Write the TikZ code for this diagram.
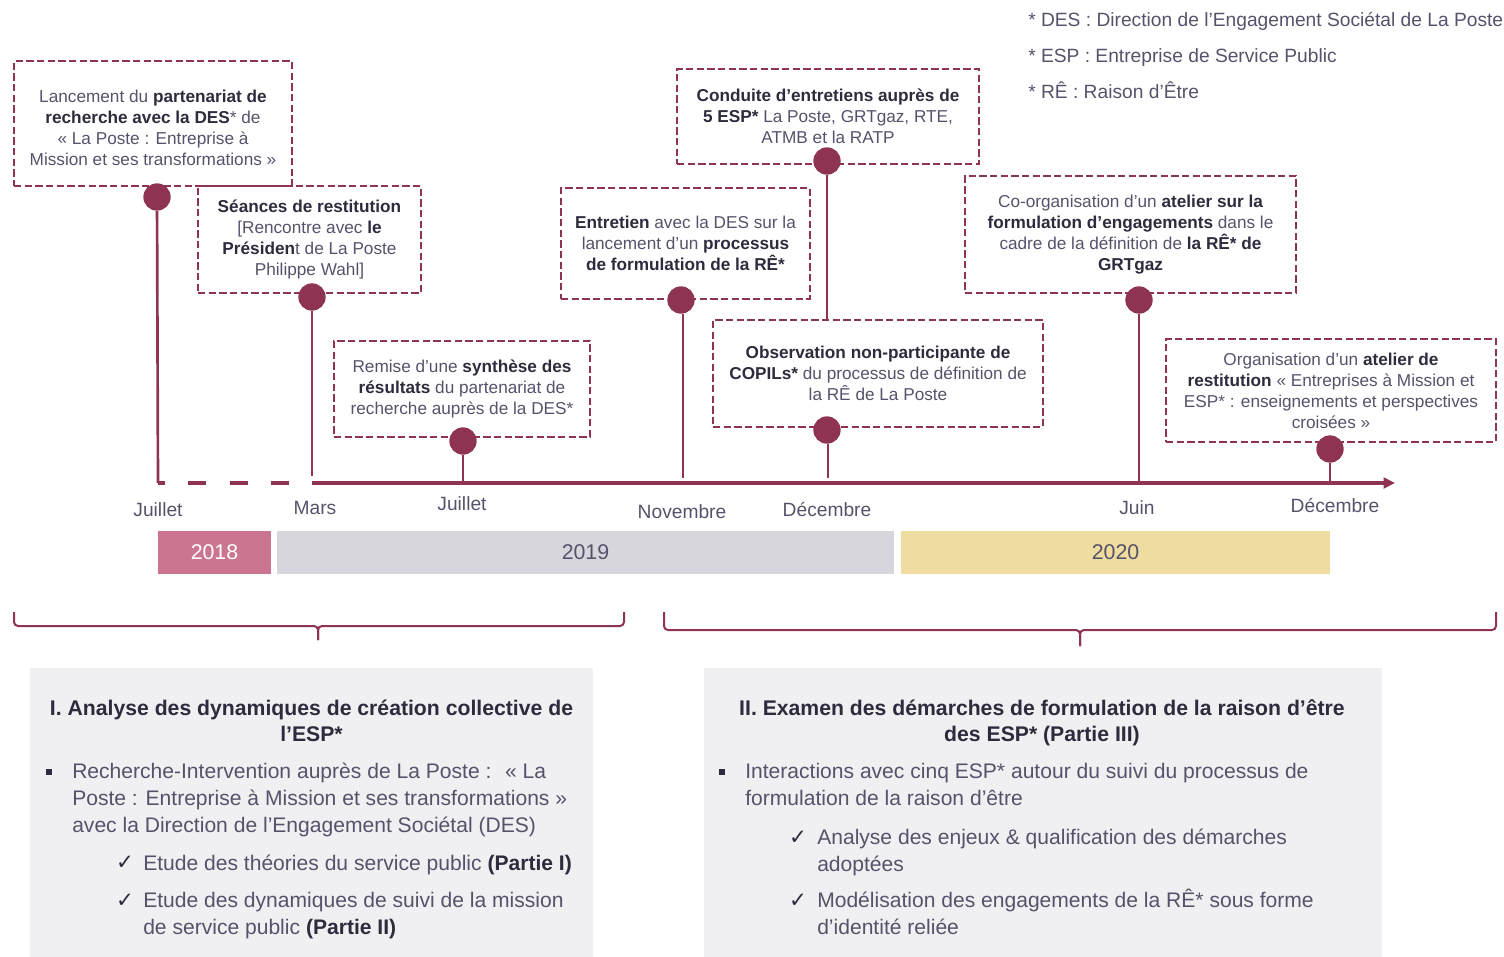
\documentclass[tikz,border=0pt]{standalone}
\usepackage{fontspec}
\setmainfont{Liberation Sans}
\newfontfamily\dejavu{DejaVu Sans}
\usetikzlibrary{arrows.meta}
\definecolor{mar}{HTML}{8E3352}
\definecolor{txt}{HTML}{55536A}
\definecolor{dark}{HTML}{2E2B3D}
\definecolor{y18}{HTML}{CC7590}
\definecolor{y19}{HTML}{D8D6DD}
\definecolor{y20}{HTML}{EFDCA0}
\definecolor{panel}{HTML}{F0F0F2}
\newcommand\B[1]{{\bfseries\color{dark}#1}}
\begin{document}
\begin{tikzpicture}[x=0.75pt,y=-0.75pt,
  evbox/.style 2 args={draw=mar, dash pattern=on 5.5pt off 2.5pt, line width=1.5pt,
     align=center, inner sep=0pt, minimum width=#1*0.75pt, minimum height=#2*0.75pt,
     font=\fontsize{12.9}{15.75}\selectfont, text=txt},
  dot/.style={circle, fill=mar, minimum size=20.5pt, inner sep=0pt},
  stem/.style={draw=mar, line width=2pt},
  month/.style={font=\fontsize{14.4}{17}\selectfont, text=txt, inner sep=0pt},
  yearbar/.style 2 args={inner sep=0pt, minimum width=#1*0.75pt, minimum height=#2*0.75pt,
     font=\fontsize{16}{19}\selectfont},
  panelbox/.style 2 args={fill=panel, inner sep=0pt, minimum width=#1*0.75pt, minimum height=#2*0.75pt},
  ttl/.style={font=\bfseries\fontsize{15.9}{19.5}\selectfont, text=dark, align=center, inner sep=0pt},
  body/.style={font=\fontsize{15.8}{19.9}\selectfont, text=txt, align=left, inner sep=0pt},
  chk/.style={font=\dejavu\fontsize{16}{19}\selectfont, text=dark, inner sep=0pt, anchor=base},
  sq/.style={fill=dark, minimum size=4.8pt, inner sep=0pt},
  note/.style={font=\fontsize{14.4}{17}\selectfont, text=txt, inner sep=0pt},
  brace/.style={draw=mar, line width=1.5pt, rounded corners=3pt},
  tl/.style={draw=mar, line width=3pt}
]
\useasboundingbox (0,0) rectangle (1504,957);

% footnotes
\node[note, anchor=base west] (n1) at (1028,26) {* DES : Direction de l’Engagement Sociétal de La Poste};
\node[note, anchor=base west] (n2) at (1028,62) {* ESP : Entreprise de Service Public};
\node[note, anchor=base west] (n3) at (1028,98) {* RÊ : Raison d’Être};

% event boxes
\node[evbox={278}{125}] (bA) at (153,123.5) {\rule{0pt}{15.3pt}Lancement du \B{partenariat de}\\ \B{recherche avec la DES}* de\\ « La Poste : Entreprise à\\ Mission et ses transformations »};
\node[evbox={223}{107}] (bB) at (309.5,239.5) {\B{Séances de restitution}\\ {[}Rencontre avec \B{le}\\ \B{Présiden}t de La Poste\\ Philippe Wahl{]}};
\node[evbox={256}{96}] (bC) at (462,389) {Remise d’une \B{synthèse des}\\ \B{résultats} du partenariat de\\ recherche auprès de la DES*};
\node[evbox={249}{111}] (bD) at (685.5,243.5) {\B{Entretien} avec la DES sur la\\ lancement d’un \B{processus}\\ \B{de formulation de la RÊ*}};
\node[evbox={302}{95}] (bE) at (828,116.5) {\B{Conduite d’entretiens auprès de}\\ \B{5 ESP*} La Poste, GRTgaz, RTE,\\ ATMB et la RATP};
\node[evbox={330}{107}] (bF) at (878,373.5) {\B{Observation non-participante de}\\ \B{COPILs*} du processus de définition de\\ la RÊ de La Poste};
\node[evbox={331}{117}] (bG) at (1130.5,234.5) {Co-organisation d’un \B{atelier sur la}\\ \B{formulation d’engagements} dans le\\ cadre de la définition de \B{la RÊ* de}\\ \B{GRTgaz}};
\node[evbox={330}{103}] (bH) at (1331,390.5) {Organisation d’un \B{atelier de}\\ \B{restitution} « Entreprises à Mission et\\ ESP* : enseignements et perspectives\\ croisées »};

% dots
\node[dot] (dA) at (157,197) {};
\node[dot] (dB) at (312,297) {};
\node[dot] (dC) at (463,441) {};
\node[dot] (dD) at (681,300) {};
\node[dot] (dE) at (827,161) {};
\node[dot] (dF) at (827,430) {};
\node[dot] (dG) at (1139,300) {};
\node[dot] (dH) at (1330,449) {};

% timeline coordinates
\coordinate (t0) at (158,483);
\coordinate (tB) at (312,476);
\coordinate (ts) at (318,483);
\coordinate (tC) at (463,483);
\coordinate (tD) at (683,478);
\coordinate (tF) at (828,478);
\coordinate (tG) at (1139,483);
\coordinate (tH) at (1330,483);
\coordinate (tend) at (1395,483);

% stems
\draw[stem] (dA) -- (t0);
\draw[stem] (dB) -- (tB);
\draw[stem] (dC) -- (tC);
\draw[stem] (dD.south -| tD) -- (tD);
\draw[stem] (dE) -- (dE |- bF.north);
\draw[stem] (dF.south -| tF) -- (tF);
\draw[stem] (dG) -- (tG);
\draw[stem] (dH) -- (tH);

% timeline
\draw[tl, dash pattern=on 13.5pt off 17.5pt, dash phase=8.25pt] (t0) -- (ts);
\draw[tl, -{Triangle[length=8.5pt,width=8pt]}] (ts) -- (tend);

% months
\node[month] (m1) at (158,510) {Juillet};
\node[month] (m2) at (315,508) {Mars};
\node[month] (m3) at (462,504) {Juillet};
\node[month] (m4) at (682,512) {Novembre};
\node[month] (m5) at (827,510) {Décembre};
\node[month] (m6) at (1137,508) {Juin};
\node[month] (m7) at (1335,506) {Décembre};

% years
\node[yearbar={113}{43}, fill=y18, text=white] (y1) at (214.5,552.5) {2018};
\node[yearbar={617}{43}, fill=y19, text=txt] (y2) at (585.5,552.5) {2019};
\node[yearbar={429}{43}, fill=y20, text=txt] (y3) at (1115.5,552.5) {2020};

% braces
\draw[brace] (14,612) -- (14,626) -- (318,626) -- (318,640);
\draw[brace] (624,612) -- (624,626) -- (318,626) -- (318,640);
\draw[brace] (664,612) -- (664,630) -- (1080,630) -- (1080,646);
\draw[brace] (1496,612) -- (1496,630) -- (1080,630) -- (1080,646);

% panels
\node[panelbox={563}{289}] (pL) at (311.5,812.5) {};
\node[panelbox={678}{289}] (pR) at (1043,812.5) {};

% left panel (base anchor = baseline of last line)
\node[ttl, anchor=base] (tL) at (311.5,741) {I. Analyse des dynamiques de création collective de\\ l’ESP*};
\node[sq] (blL) at (49,772) {};
\node[body, anchor=base west] (xL) at (72,832) {Recherche-Intervention auprès de La Poste :~ « La\\ Poste : Entreprise à Mission et ses transformations »\\ avec la Direction de l’Engagement Sociétal (DES)};
\node[chk] (cL1) at (125,869) {✓};
\node[body, anchor=base west] (xL1) at (143,870) {Etude des théories du service public \B{(Partie I)}};
\node[chk] (cL2) at (125,907) {✓};
\node[body, anchor=base west] (xL2) at (143,934) {Etude des dynamiques de suivi de la mission\\ de service public \B{(Partie II)}};

% right panel
\node[ttl, anchor=base] (tR) at (1042,741) {II. Examen des démarches de formulation de la raison d’être\\ des ESP* (Partie III)};
\node[sq] (blR) at (722,772) {};
\node[body, anchor=base west] (xR) at (745,805) {Interactions avec cinq ESP* autour du suivi du processus de\\ formulation de la raison d’être};
\node[chk] (cR1) at (798,844) {✓};
\node[body, anchor=base west] (xR1) at (817,871) {Analyse des enjeux \& qualification des démarches\\ adoptées};
\node[chk] (cR2) at (798,907) {✓};
\node[body, anchor=base west] (xR2) at (817,934) {Modélisation des engagements de la RÊ* sous forme\\ d’identité reliée};
\end{tikzpicture}
\end{document}
